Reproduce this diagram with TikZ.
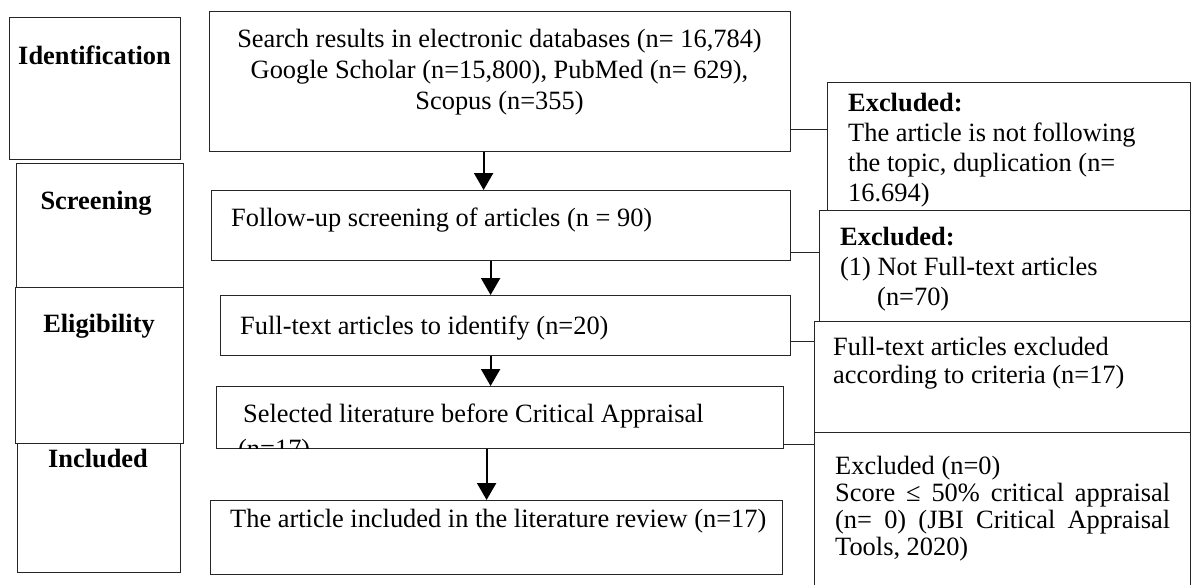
\documentclass[tikz,border=0pt]{standalone}
\usepackage{fontspec}
\setmainfont{Liberation Serif}
\usetikzlibrary{arrows.meta}
\tikzset{
  stage/.style={draw=black!85, line width=1.2pt, fill=white, inner sep=0pt, anchor=north west},
  txt/.style={inner sep=0pt, font=\fontsize{26.4}{#1}\selectfont},
  txt/.default=31,
  head/.style={inner sep=0pt, font=\fontsize{26.4}{31}\selectfont\bfseries},
  flow/.style={line width=2.2pt, -{Triangle[length=17pt,width=19pt]}},
  link/.style={line width=1.2pt, draw=black!85},
}
\begin{document}
\begin{tikzpicture}[x=1pt,y=-1pt]
\clip (0,0) rectangle (1192,584);
\fill[white] (0,0) rectangle (1192,584);

% phase column
\node[stage, minimum width=171pt, minimum height=142pt] (ident) at (9,17) {};
\node[stage, minimum width=167pt, minimum height=124pt] (screen) at (16,163) {};
\node[stage, minimum width=163pt, minimum height=129pt] (incl) at (17,443) {};
\node[stage, minimum width=168pt, minimum height=156pt] (elig) at (15,287) {};
\node[head, anchor=base] (identlbl) at (94.5,64) {Identification};
\node[head, anchor=base] (screenlbl) at (96,209) {Screening};
\node[head, anchor=base] (eliglbl) at (99,332) {Eligibility};
\node[head, anchor=base] (incllbl) at (98,467) {Included};

% main flow
\node[stage, minimum width=581pt, minimum height=140pt] (search) at (209,11) {};
\node[stage, minimum width=579pt, minimum height=70pt] (follow) at (211,190) {};
\node[stage, minimum width=570pt, minimum height=60pt] (full) at (220,295) {};
\node[stage, minimum width=567pt, minimum height=62pt] (sel) at (216,386) {};
\node[stage, minimum width=572pt, minimum height=74pt] (final) at (210,500) {};

% last baseline given for multi-line texts
\node[txt, anchor=base, align=center] (searchtxt) at (499.5,109)
  {Search results in electronic databases (n= 16,784)\\
   Google Scholar (n=15,800), PubMed (n= 629),\\
   Scopus (n=355)};
\node[txt, anchor=base west] (followtxt) at (231,226) {Follow-up screening of articles (n = 90)};
\node[txt, anchor=base west] (fulltxt) at (240,334) {Full-text articles to identify (n=20)};
\begin{scope}
  \clip ([yshift=1pt]sel.south west) rectangle (sel.north east);
  \node[txt=35, anchor=base west, align=left] (seltxt) at (243,457)
    {Selected literature before Critical Appraisal\\\hspace*{-5pt}(n=17)};
\end{scope}
\node[txt, anchor=base west] (finaltxt) at (230,527) {The article included in the literature review (n=17)};

% excluded boxes
\node[stage, minimum width=363pt, minimum height=133pt] (excl1) at (827,82) {};
\node[stage, minimum width=371pt, minimum height=111pt] (excl2) at (819,210) {};
\node[stage, minimum width=376pt, minimum height=111pt] (excl3) at (814,321) {};
\node[stage, minimum width=376pt, minimum height=168pt] (excl4) at (814,432) {};

\node[txt=30, anchor=base west, align=left] (excl1txt) at (848,201)
  {\textbf{Excluded:}\\The article is not following\\the topic, duplication (n=\\16.694)};
\node[txt=30, anchor=base west, align=left] (excl2txt) at (840,305)
  {\textbf{Excluded:}\\(1) Not Full-text articles\\\hspace*{37pt}(n=70)};
\node[txt=28, anchor=base west, align=left] (excl3txt) at (833,383)
  {Full-text articles excluded\\according to criteria (n=17)};
\node[txt=26.7, anchor=base west, align=left] (excl4txt) at (835,555)
  {Excluded (n=0)\\
   \makebox[335pt][s]{Score ≤ 50\% critical appraisal}\\
   \makebox[335pt][s]{(n= 0) (JBI Critical Appraisal}\\
   Tools, 2020)};

% arrows
\path ([xshift=-16.5pt]search.south) coordinate (a1);
\draw[flow] (a1) -- (a1 |- follow.north);
\path ([xshift=-10.5pt]follow.south) coordinate (a2);
\draw[flow] (a2) -- (a2 |- full.north);
\path ([xshift=-15pt]full.south) coordinate (a3);
\draw[flow] (a3) -- (a3 |- sel.north);
\path ([xshift=-13.5pt]sel.south) coordinate (a4);
\draw[flow] (a4) -- (a4 |- final.north);

% side links
\draw[link] (search.south east) ++(0,-23) coordinate (b1) -- (b1 -| excl1.west);
\draw[link] (follow.south east) ++(0,-9) coordinate (b2) -- (b2 -| excl2.west);
\draw[link] (full.south east) ++(0,-15) coordinate (b3) -- (b3 -| excl3.west);
\draw[link] (sel.south east) ++(0,-5) coordinate (b4) -- (b4 -| excl4.west);
\end{tikzpicture}
\end{document}
